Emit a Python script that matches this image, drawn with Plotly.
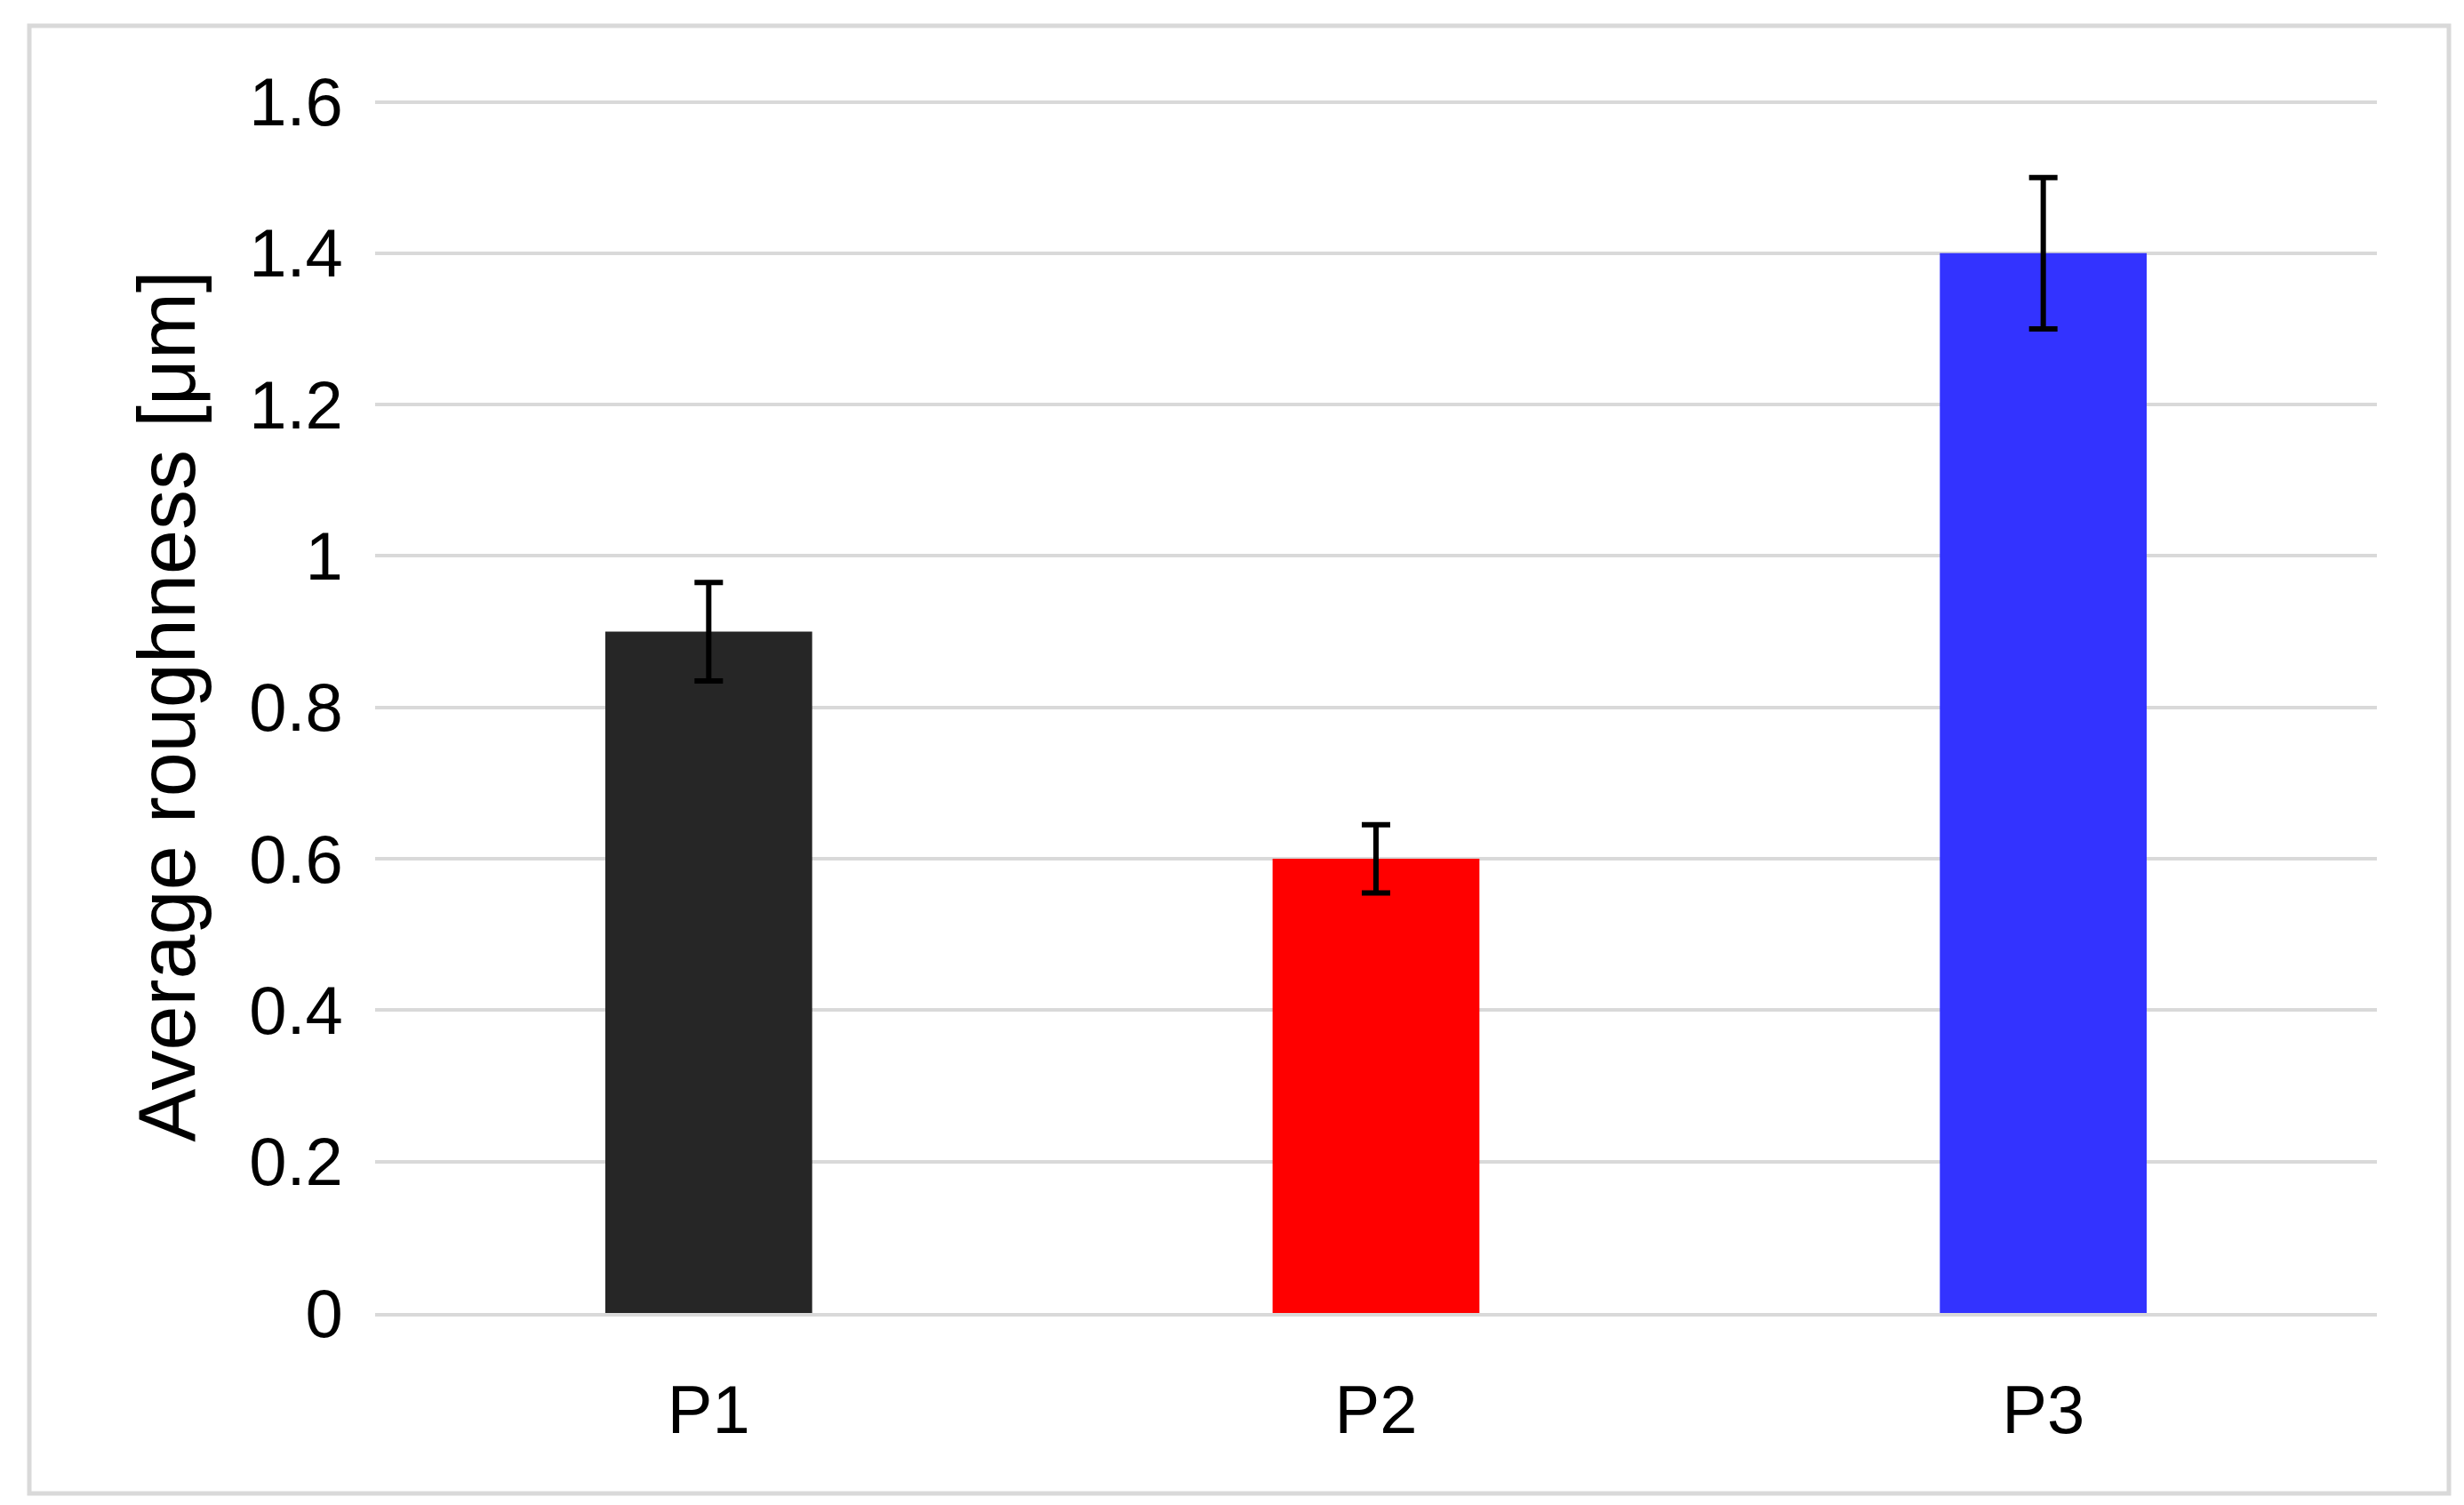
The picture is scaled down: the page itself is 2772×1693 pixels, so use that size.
import plotly.graph_objects as go

categories = ["P1", "P2", "P3"]
values = [0.9, 0.6, 1.4]
errors = [0.065, 0.045, 0.1]
colors = ["#262626", "#ff0000", "#3333ff"]

fig = go.Figure(go.Bar(
    x=categories, y=values, width=0.31, marker_color=colors, marker_line_width=0,
    error_y=dict(type="data", array=errors, color="black", thickness=6, width=16),
))
W, H = 2772, 1693
l, r, t, b = 414, 106, 104, 224
pw, ph = W - l - r, H - t - b
fig.update_layout(
    width=W, height=H, margin=dict(l=l, r=r, t=t, b=b),
    plot_bgcolor="white", paper_bgcolor="white", showlegend=False,
    font=dict(family="Liberation Sans, Arial", size=76, color="black"),
    bargap=0.69,
)
fig.update_yaxes(range=[0, 1.603], tickvals=[0,0.2,0.4,0.6,0.8,1,1.2,1.4,1.6],
                 ticktext=["0","0.2","0.4","0.6","0.8","1","1.2","1.4","1.6"],
                 showgrid=True, gridcolor="#d9d9d9", gridwidth=4, zeroline=False,
                 showline=False, ticks="outside", ticklen=20, tickcolor="white",
                 title=dict(text="Average roughness [μm]", font=dict(size=90), standoff=30))
fig.update_xaxes(showline=True, linecolor="#d9d9d9", linewidth=4, ticks="outside",
                 ticklen=40, tickcolor="white", showgrid=False)
fig.add_shape(type="rect", xref="paper", yref="paper",
              x0=(25 - l) / pw, x1=(2747 - l) / pw,
              y0=-(1672 - (H - b)) / ph, y1=((H - b) - 21) / ph,
              line=dict(color="#d9d9d9", width=5))
fig.write_html("out.html")
